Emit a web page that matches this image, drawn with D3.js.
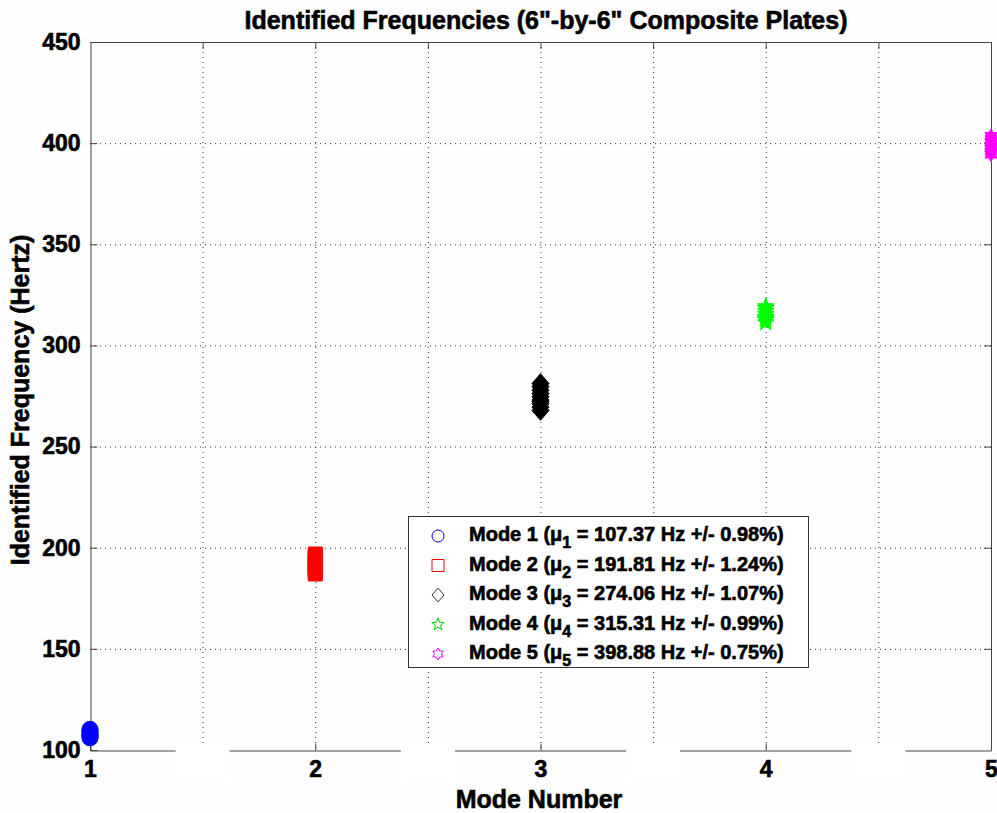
<!DOCTYPE html>
<html>
<head>
<script src="https://cdn.jsdelivr.net/npm/d3@7"></script>
<style>
  html, body { margin: 0; padding: 0; background: #fefefe; }
  svg { display: block; font-family: Arial, "Liberation Sans", sans-serif; font-weight: bold; }
  .grid line { stroke: #333; stroke-dasharray: 1, 4; stroke-width: 1; }
  .lbl { fill: #000; stroke: #000; stroke-width: 0.6px; }
</style>
</head>
<body>
<div id="chart"></div>
<script>
// identified frequencies per mode (Hz)
var modeNums = [1, 2, 3, 4, 5];
var mode1 = [106.0, 106.8, 107.4, 108.1, 108.9, 109.6, 110.2, 107.0];
var mode2 = [187.0, 188.6, 190.1, 191.5, 192.8, 194.2, 195.7, 196.9, 189.4];
var mode3 = [267.8, 269.5, 271.2, 273.0, 274.6, 276.2, 277.9, 279.6, 281.2, 272.2];
var mode4 = [311.3, 312.6, 314.0, 315.4, 316.9, 318.3, 319.2, 313.3];
var mode5 = [394.4, 395.9, 397.4, 398.9, 400.4, 401.9, 403.5, 398.1];
var meanFreq = ["107.37", "191.81", "274.06", "315.31", "398.88"];
var pctDev = ["0.98", "1.24", "1.07", "0.99", "0.75"];
var colors = ["#0000ff", "#ff0000", "#000000", "#00ff00", "#ff00ff"];
var yTicks = [100, 150, 200, 250, 300, 350, 400, 450];
var xTicks = [1, 1.5, 2, 2.5, 3, 3.5, 4, 4.5, 5];
var xLabels = [1, 2, 3, 4, 5];

var W = 997, H = 813;
var L = 90, R = 991, T = 42, B = 750;

var svg = d3.select("#chart").append("svg").attr("width", W).attr("height", H);

var x = d3.scaleLinear().domain([1, 5]).range([L, R]);
var y = d3.scaleLinear().domain([100, 450]).range([B, T]);

// grid
var grid = svg.append("g").attr("class", "grid");
grid.selectAll(".gx").data(xTicks.filter(function (d) { return d > 1 && d < 5; }))
  .enter().append("line")
  .attr("x1", function (d) { return x(d) + 0.5; }).attr("x2", function (d) { return x(d) + 0.5; })
  .attr("y1", T).attr("y2", B);
grid.selectAll(".gy").data(yTicks.filter(function (d) { return d > 100 && d < 450; }))
  .enter().append("line")
  .attr("y1", function (d) { return y(d) + 0.5; }).attr("y2", function (d) { return y(d) + 0.5; })
  .attr("x1", L).attr("x2", R);

// axes
var axisColor = "#444";
var yAxis = svg.append("g").attr("transform", "translate(" + (L + 0.5) + ",0)")
  .call(d3.axisLeft(y).tickValues(yTicks).tickSize(-7).tickPadding(10));
var xAxis = svg.append("g").attr("transform", "translate(0," + (B + 0.5) + ")")
  .call(d3.axisBottom(x).tickValues(xTicks).tickSize(-7).tickPadding(10)
    .tickFormat(function (d) { return xLabels.indexOf(d) >= 0 ? d : ""; }));
[xAxis, yAxis].forEach(function (a) {
  a.select(".domain").attr("stroke", axisColor);
  a.selectAll(".tick line").attr("stroke", axisColor);
  a.selectAll("text").attr("class", "lbl").style("font-size", "23px")
    .style("font-family", "Arial, 'Liberation Sans', sans-serif").style("font-weight", "bold");
});
// top and right edges of the box
svg.append("line").attr("x1", L).attr("x2", R + 0.5).attr("y1", T + 0.5).attr("y2", T + 0.5).attr("stroke", axisColor);
svg.append("line").attr("x1", R + 0.5).attr("x2", R + 0.5).attr("y1", T).attr("y2", B).attr("stroke", axisColor);
svg.selectAll(".topTick").data(xTicks.filter(function (d) { return d > 1 && d < 5; })).enter().append("line")
  .attr("x1", function (d) { return x(d) + 0.5; }).attr("x2", function (d) { return x(d) + 0.5; })
  .attr("y1", T).attr("y2", T + 7).attr("stroke", axisColor);
svg.selectAll(".rightTick").data(yTicks.filter(function (d) { return d > 100 && d < 450; })).enter().append("line")
  .attr("y1", function (d) { return y(d) + 0.5; }).attr("y2", function (d) { return y(d) + 0.5; })
  .attr("x1", R - 7).attr("x2", R).attr("stroke", axisColor);

// white patches over the half-step tick labels
svg.selectAll(".patch").data([1.5, 2.5, 3.5, 4.5]).enter().append("rect")
  .attr("x", function (d) { return x(d) - 27; }).attr("y", B - 7)
  .attr("width", 54).attr("height", 38).attr("fill", "#ffffff");

// marker shapes
function starPath(n, ro, ri) {
  var p = [];
  for (var i = 0; i < 2 * n; i++) {
    var r = i % 2 ? ri : ro;
    var a = Math.PI * i / n - Math.PI / 2;
    p.push([r * Math.cos(a), r * Math.sin(a)]);
  }
  return "M" + p.map(function (q) { return q[0].toFixed(2) + "," + q[1].toFixed(2); }).join("L") + "Z";
}
function markerPath(k, s) {
  if (k === 0) return d3.symbol(d3.symbolCircle, Math.PI * s * s)();
  if (k === 1) return "M" + (-s) + "," + (-s) + "H" + s + "V" + s + "H" + (-s) + "Z";
  if (k === 2) return "M0," + (-s * 1.15) + "L" + s + ",0L0," + (s * 1.15) + "L" + (-s) + ",0Z";
  if (k === 3) return starPath(5, s * 1.1, s * 0.45);
  return starPath(6, s, s * 0.58);
}

var series = [mode1, mode2, mode3, mode4, mode5];
var sizes = [8, 7, 8.5, 8, 7];
series.forEach(function (vals, k) {
  svg.append("g").selectAll("path").data(vals).enter().append("path")
    .attr("d", markerPath(k, sizes[k]))
    .attr("transform", function (d) { return "translate(" + x(modeNums[k]) + "," + y(d) + ")"; })
    .attr("fill", colors[k]).attr("stroke", colors[k]).attr("stroke-width", 1);
});

// legend
var lg = svg.append("g").attr("transform", "translate(408,516)");
lg.append("rect").attr("x", 0.5).attr("y", 0.5).attr("width", 400).attr("height", 151)
  .attr("fill", "#fff").attr("stroke", "#333");
var legColors = ["#0000ff", "#ff0000", "#333333", "#00cc00", "#ff00ff"];
modeNums.forEach(function (m, i) {
  var ry = 18 + i * 29.5;
  lg.append("path").attr("d", markerPath(i, 6))
    .attr("transform", "translate(30," + (ry + 2) + ")")
    .attr("fill", "none").attr("stroke", legColors[i]).attr("stroke-width", 1);
  var t = lg.append("text").attr("class", "lbl").attr("x", 61).attr("y", ry + 7)
    .style("font-size", "20px");
  t.append("tspan").text("Mode " + m + " (\u03bc");
  t.append("tspan").attr("dy", 7).style("font-size", "16px").text(m);
  t.append("tspan").attr("dy", -7).text(" = " + meanFreq[i] + " Hz +/- " + pctDev[i] + "%)");
});

// titles
svg.append("text").attr("class", "lbl").attr("x", 546).attr("y", 29).attr("text-anchor", "middle")
  .style("font-size", "25px").text("Identified Frequencies (6\"-by-6\" Composite Plates)");
svg.append("text").attr("class", "lbl").attr("x", 539).attr("y", 808).attr("text-anchor", "middle")
  .style("font-size", "25px").text("Mode Number");
svg.append("text").attr("class", "lbl").attr("transform", "translate(29,400) rotate(-90)").attr("text-anchor", "middle")
  .style("font-size", "25px").text("Identified Frequency (Hertz)");
</script>
</body>
</html>
